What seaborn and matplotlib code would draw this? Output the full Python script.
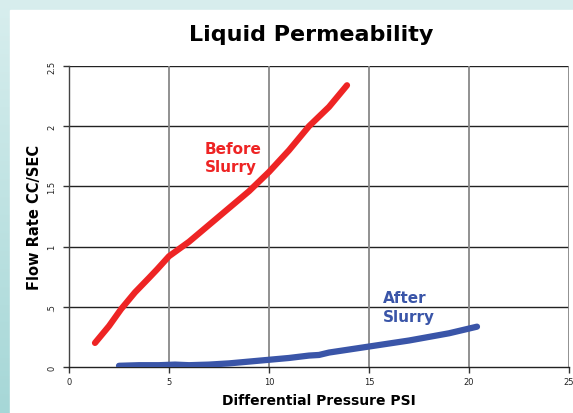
import numpy as np
import pandas as pd
import seaborn as sns
import matplotlib.pyplot as plt
from matplotlib.colors import LinearSegmentedColormap
from matplotlib.patches import Rectangle

# Before slurry
before_x = [1.3, 2.0, 2.6, 3.3, 4.0, 4.4, 5.0, 6.0, 7.0, 8.0, 9.0, 10.0, 11.0, 12.0, 13.0, 13.9]
before_y = [0.20, 0.34, 0.48, 0.62, 0.74, 0.81, 0.92, 1.04, 1.18, 1.32, 1.46, 1.62, 1.80, 2.00, 2.16, 2.34]

# After slurry
after_x = [2.5, 3.5, 4.5, 5.3, 6.0, 7.0, 8.0, 9.0, 10.0, 11.0, 12.0, 12.5, 13.0, 14.0, 15.0, 16.0, 17.0, 18.0, 19.0, 20.4]
after_y = [0.01, 0.015, 0.015, 0.02, 0.015, 0.02, 0.03, 0.045, 0.06, 0.075, 0.095, 0.10, 0.12, 0.145, 0.17, 0.195, 0.22, 0.25, 0.28, 0.335]

x_ticks = [0, 5, 10, 15, 20, 25]
y_ticks = [0, 0.5, 1, 1.5, 2, 2.5]
y_tick_labels = ['0', '.5', '1', '1.5', '2', '2.5']

df_before = pd.DataFrame({'psi': before_x, 'flow': before_y})
df_after = pd.DataFrame({'psi': after_x, 'flow': after_y})

sns.set_style('white')
plt.rcParams['font.family'] = ['DejaVu Sans']
plt.rcParams['text.color'] = 'black'
plt.rcParams['axes.labelcolor'] = 'black'

fig = plt.figure(figsize=(5.73, 4.14), dpi=100)

# background gradient
bg = fig.add_axes([0, 0, 1, 1])
bg.set_axis_off()
cmap = LinearSegmentedColormap.from_list('bg', ['#d8eeee', '#a6d7d7'])
grad = np.linspace(0, 1, 256).reshape(-1, 1)
bg.imshow(grad, aspect='auto', cmap=cmap, extent=[0, 1, 0, 1])
bg.set_xlim(0, 1)
bg.set_ylim(0, 1)
bg.add_patch(Rectangle((10 / 573, 0), 1, 1 - 11 / 414, color='white', zorder=2))

ax = fig.add_axes([69 / 573, 46 / 414, 500 / 573, 301 / 414])
ax.patch.set_alpha(0)

sns.lineplot(data=df_before, x='psi', y='flow', ax=ax, color='#ee2424', linewidth=4.5,
             sort=False, solid_capstyle='round', zorder=3)
sns.lineplot(data=df_after, x='psi', y='flow', ax=ax, color='#3a55a8', linewidth=4.5,
             sort=False, solid_capstyle='round', zorder=3)

ax.set_xlim(0, 25)
ax.set_ylim(0, 2.5)
ax.set_xticks(x_ticks)
ax.set_xticklabels([str(t) for t in x_ticks], fontsize=6)
ax.set_yticks(y_ticks)
ax.set_yticklabels(y_tick_labels, fontsize=6, rotation=90, va='center')
ax.tick_params(axis='both', length=4, width=1, color='#333333', direction='out', pad=3,
               labelcolor='#222222')
ax.tick_params(axis='x', bottom=True)
ax.tick_params(axis='y', left=True, pad=5)

for y in y_ticks[1:]:
    ax.axhline(y, color='#222222', linewidth=1.0, zorder=1)
for x in x_ticks[1:]:
    ax.axvline(x, color='#888888', linewidth=1.3, zorder=1)

for s in ['top', 'right']:
    ax.spines[s].set_visible(False)
ax.spines['left'].set_color('#444444')
ax.spines['bottom'].set_color('#222222')
ax.spines['left'].set_linewidth(1.0)
ax.spines['bottom'].set_linewidth(1.0)

ax.text(6.8, 1.74, 'Before\nSlurry', color='#ee2424', fontsize=11, fontweight='bold',
        ha='left', va='center', linespacing=1.3)
ax.text(15.7, 0.50, 'After\nSlurry', color='#3a55a8', fontsize=11, fontweight='bold',
        ha='left', va='center', linespacing=1.3)

ax.set_xlabel('Differential Pressure PSI', fontsize=10, fontweight='bold', labelpad=5)
ax.set_ylabel('Flow Rate CC/SEC', fontsize=10.5, fontweight='bold', labelpad=4)

fig.text(311 / 573, 1 - 35 / 414, 'Liquid Permeability', fontsize=16, fontweight='bold',
         ha='center', va='center')

fig.savefig('out.png', dpi=100)
